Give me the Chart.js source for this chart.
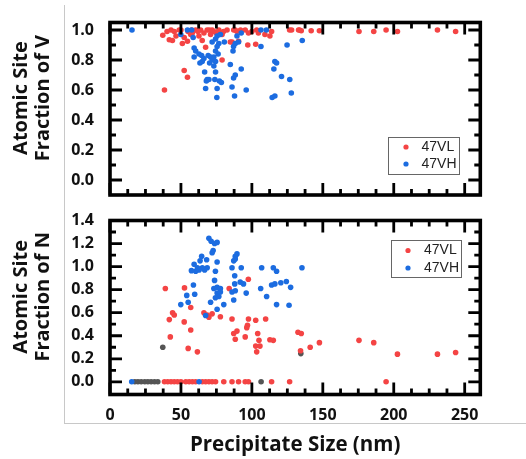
<!DOCTYPE html>
<html>
<head>
<meta charset="utf-8">
<script src="https://cdn.jsdelivr.net/npm/chart.js@4.4.1/dist/chart.umd.min.js"></script>
<style>
  html, body { margin: 0; padding: 0; background: #fff; }
  #page { position: relative; width: 526px; height: 459px; overflow: hidden; }
  #frame { position: absolute; left: 64px; top: 5px; width: 470px; height: 418px;
           border-left: 1px solid #c8c8c8; border-bottom: 1px solid #c8c8c8; }
  .box { position: absolute; left: 0; width: 526px; }
  #top-box { top: 0; height: 210px; }
  #bottom-box { top: 205px; height: 254px; }
</style>
</head>
<body>
<div id="page">
  <div id="frame"></div>
  <div class="box" id="top-box"><canvas id="top-chart"></canvas></div>
  <div class="box" id="bottom-box"><canvas id="bottom-chart"></canvas></div>
</div>
<script>
// [precipitate size (nm), atomic site fraction]
const topVL = [
  [37.2,0.965],[41.8,0.935],[40.2,0.99],[43,1.0],[45.3,0.99],[48.8,1.0],[46.5,0.96],[52.3,0.95],
  [54.6,0.925],[56.9,0.97],[60.4,1.0],[63.9,1.0],[66.2,0.98],[68.5,1.0],[73.2,0.99],[76.7,1.0],
  [79,0.97],[82.5,1.0],[86,0.92],[88.3,1.0],[62.7,0.96],[70.9,0.97],[87.2,1.0],[89.5,0.99],
  [95.3,1.0],[97.6,0.98],[103.4,1.0],[104.6,0.98],[109.2,0.97],[112.7,0.96],[113.9,0.99],
  [126.6,1.0],[133.6,1.0],[141.8,0.995],[147.6,0.995],[97.1,0.9],[102.7,0.905],[90.6,0.925],
  [38.4,0.6],[52.3,0.73],[54.6,0.685],[67.4,0.885],[79,0.8],[128,1.0],[132.9,1.0],[134.8,0.995],
  [175.5,0.99],[185.9,0.99],[194.6,1.0],[202.6,0.99],[230.8,1.0],[243.6,0.99],[44,0.93],[51,0.91],
  [58,0.98],[65,0.93],[72,1.0],[84.8,0.92],[50,1.0],[55,0.99],[57.5,1.0],[62,0.99],[70,1.0],
  [75,0.98],[80,0.99],[92,1.0],[100,0.99]
];
const topVH = [
  [15.5,1.0],[54.6,1.0],[57.6,1.0],[49.9,0.97],[58.6,0.95],[59.3,0.88],[60.4,0.86],[62.7,0.84],
  [59.3,0.82],[64.6,0.83],[66.2,0.81],[65,0.79],[63.4,0.78],[69.2,0.83],[70.9,0.82],[72,0.8],
  [70.2,0.78],[72,0.92],[74.4,0.94],[75.5,0.96],[77.8,0.97],[76.7,0.91],[75.5,0.89],[74.4,0.86],
  [76.2,0.84],[73.2,0.82],[74.4,0.79],[66.7,0.72],[73.2,0.76],[74.4,0.72],[68.5,0.67],[67.9,0.66],
  [69.7,0.67],[73.9,0.67],[77.1,0.66],[78.5,0.65],[67.4,0.61],[75.5,0.61],[75.3,0.55],[80.6,0.92],
  [84.8,0.77],[87.1,0.89],[88.3,0.91],[86.7,0.86],[89.5,0.96],[90.6,0.92],[92.5,0.98],[88.3,0.7],
  [87.1,0.68],[92.5,0.74],[86,0.62],[87.8,0.56],[96,0.6],[106.4,0.89],[106.4,1.0],[110.2,1.0],
  [116.2,0.79],[117.4,0.78],[115.5,0.74],[120.9,0.69],[126.7,0.67],[127.8,0.58],[114.3,0.55],
  [116.2,0.56],[124.8,0.9],[135.5,0.93]
];
const botVL = [
  [39,0.81],[52.5,0.815],[84,0.81],[97.5,0.89],[44.1,0.6],[45.3,0.58],[41.8,0.54],[52.3,0.52],
  [56.9,0.645],[56.9,0.45],[42.5,0.39],[55.1,0.29],[61.6,0.26],[66.2,0.6],[68.5,0.58],[69.7,0.56],
  [72,0.59],[77.8,0.565],[87.2,0.42],[88.3,0.37],[89.5,0.44],[95.3,0.39],[86,0.545],[97.6,0.545],
  [96.9,0.49],[96.4,0.47],[102.7,0.535],[109.7,0.545],[104.1,0.42],[105,0.36],[102.7,0.31],
  [105.7,0.31],[103.4,0.26],[112.7,0.365],[115.1,0.36],[132.5,0.43],[134.8,0.42],[134.3,0.27],
  [141.1,0.3],[147.6,0.34],[175.5,0.36],[185.9,0.34],[202.6,0.24],[230.8,0.24],[243.6,0.255],
  [38.4,0],[40.7,0],[43,0],[45.3,0],[47.6,0],[50,0],[53.4,0],[55.8,0],[58.1,0],[60.4,0],[65.1,0],
  [67.4,0],[69.7,0],[72,0],[74.4,0],[80.2,0],[86,0],[90.6,0],[95.3,0],[97.6,0],[113.9,0],
  [126.6,0],[194.6,0]
];
const botVH = [
  [69.7,1.245],[71.3,1.22],[73.7,1.2],[75.5,1.21],[72.7,1.14],[72,1.12],[68.1,1.06],[68.5,0.99],
  [66.7,0.97],[65.1,0.99],[62.8,0.97],[60.4,0.96],[59.3,1.02],[57.4,0.965],[63.5,1.05],[61.6,0.99],
  [64.6,1.09],[75.5,1.04],[74.3,0.96],[73.7,0.88],[73.2,0.81],[75.5,0.82],[77.8,0.81],[75.5,0.77],
  [76.7,0.74],[77.8,0.78],[74.3,0.73],[80.2,0.67],[75.5,0.63],[58.8,0.84],[59.7,0.76],[54.1,0.75],
  [55.1,0.69],[49.9,0.67],[70.9,0.69],[67.4,0.575],[86,0.99],[87.2,1.05],[88.3,1.09],[89.5,1.11],
  [88.3,1.065],[92.5,0.99],[87.9,0.92],[87.9,0.85],[91.8,0.865],[94.1,0.85],[88.3,0.79],[86,0.78],
  [87.2,0.71],[96,0.77],[106.9,0.99],[115.1,0.99],[117.4,0.96],[113.9,0.84],[116.2,0.85],
  [120.4,0.86],[124.3,0.87],[127.3,0.82],[106.2,0.81],[110.4,0.74],[117.4,0.67],[126.2,0.665],
  [135.3,0.99],[15.3,0],[62.8,0]
];
const botOther = [
  [37.2,0.3],[134.5,0.245],[17.5,0],[19.7,0],[22,0],[24.5,0],[26.7,0],[29,0],[31.4,0],[33.7,0],[106.5,0]
];

const xTicks = [0, 50, 100, 150, 200, 250];
const topYTicks = [0, 0.2, 0.4, 0.6, 0.8, 1.0];
const botYTicks = [0, 0.2, 0.4, 0.6, 0.8, 1.0, 1.2, 1.4];

const RED = 'rgb(244,68,68)';
const BLUE = 'rgb(28,108,224)';
const GREY = 'rgb(85,85,85)';
const FONT = "'Open Sans', 'Noto Sans', sans-serif";

function minorTicks(majors, step, min, max) {
    let out = [];
    for (let v = min; v <= max + 1e-9; v += step) {
        let r = Math.round(v * 1000) / 1000;
        if (!majors.some(m => Math.abs(m - r) < 1e-6)) out.push(r);
    }
    return out;
}

// box frame with inward ticks on all four sides
function frameTicks(yMajor, yMax) {
    const xMinor = minorTicks(xTicks, 12.5, 0, 261);
    const yMinor = minorTicks(yMajor, 0.1, 0, yMax - 0.05);
    return {
        id: 'frameTicks',
        afterDatasetsDraw(chart) {
            const { ctx, chartArea: a } = chart;
            const x = chart.scales.x, y = chart.scales.y;
            ctx.save();
            ctx.strokeStyle = '#000';
            ctx.lineWidth = 2.8;
            ctx.beginPath();
            function xTick(v, len) {
                let px = x.getPixelForValue(v);
                ctx.moveTo(px, a.bottom); ctx.lineTo(px, a.bottom - len);
                ctx.moveTo(px, a.top); ctx.lineTo(px, a.top + len);
            }
            function yTick(v, len) {
                let py = y.getPixelForValue(v);
                ctx.moveTo(a.left, py); ctx.lineTo(a.left + len, py);
                ctx.moveTo(a.right, py); ctx.lineTo(a.right - len, py);
            }
            xTicks.forEach(v => xTick(v, 12));
            xMinor.forEach(v => xTick(v, 6));
            yMajor.forEach(v => yTick(v, 12));
            yMinor.forEach(v => yTick(v, 6));
            ctx.stroke();
            ctx.lineWidth = 3.6;
            ctx.strokeRect(a.left, a.top, a.right - a.left, a.bottom - a.top);
            ctx.restore();
        }
    };
}

// two-line rotated y title, sitting a little above the plot centre like the original
function yTitle(lines) {
    return {
        id: 'yTitle',
        afterDraw(chart) {
            const { ctx, chartArea: a } = chart;
            ctx.save();
            ctx.font = "bold 20px " + FONT;
            ctx.fillStyle = '#111';
            ctx.textAlign = 'center';
            ctx.textBaseline = 'middle';
            lines.forEach((t, i) => {
                ctx.save();
                ctx.translate(21.7 + i * 21.6, (a.top + a.bottom) / 2 - 10.7);
                ctx.rotate(-Math.PI / 2);
                ctx.fillText(t, 0, 0);
                ctx.restore();
            });
            ctx.restore();
        }
    };
}

function boxLegend(lg) {
    return {
        id: 'boxLegend',
        afterDraw(chart) {
            const { ctx, chartArea: a } = chart;
            const left = Math.round(a.right - lg.right - lg.width);
            const top = Math.round(lg.top != null ? a.top + lg.top : a.bottom - lg.bottom - lg.height);
            ctx.save();
            ctx.fillStyle = '#fff';
            ctx.fillRect(left, top, lg.width, lg.height);
            ctx.strokeStyle = '#666';
            ctx.lineWidth = 1;
            ctx.strokeRect(left + 0.5, top + 0.5, lg.width, lg.height);
            ctx.font = "14px 'Liberation Sans', Arial, sans-serif";
            ctx.textBaseline = 'middle';
            chart.data.datasets.filter(d => d.label).forEach((d, i) => {
                let cy = top + lg.rowTop + i * lg.rowGap;
                ctx.fillStyle = d.backgroundColor;
                ctx.beginPath();
                ctx.arc(left + lg.dotX, cy, 2.6, 0, Math.PI * 2);
                ctx.fill();
                ctx.fillStyle = '#222';
                ctx.fillText(d.label, left + lg.textX, cy);
            });
            ctx.restore();
        }
    };
}

function points(arr) {
    return arr.map(p => ({ x: p[0], y: p[1] }));
}

function makeChart(canvasId, datasets, cfg) {
    var ctx = document.getElementById(canvasId).getContext('2d');
    return new Chart(ctx, {
        type: 'scatter',
        data: { datasets: datasets },
        plugins: [frameTicks(cfg.yTicks, cfg.yMax), yTitle(cfg.yTitle), boxLegend(cfg.legend)],
        options: {
            responsive: true,
            maintainAspectRatio: false,
            animation: false,
            events: [],
            layout: { padding: cfg.padding },
            elements: { point: { radius: 2.8, borderWidth: 0, hoverRadius: 2.8 } },
            scales: {
                x: {
                    type: 'linear', min: 0, max: 261,
                    display: cfg.showX,
                    afterBuildTicks: s => { s.ticks = xTicks.map(v => ({ value: v })); },
                    afterFit: s => {
                        s.height = cfg.showX ? 64.5 : 0;
                        s.paddingLeft = 0; s.paddingRight = 0;
                    },
                    grid: { display: false, drawTicks: false },
                    border: { display: false },
                    ticks: {
                        padding: 11, color: '#111', maxRotation: 0, autoSkip: false,
                        font: { family: FONT, size: 16, weight: 'bold' },
                        callback: v => v
                    },
                    title: {
                        display: true, text: 'Precipitate Size (nm)', color: '#111',
                        font: { family: FONT, size: 20.5, weight: 'bold', lineHeight: 1.05 },
                        padding: { top: 0, bottom: 3.2 }
                    }
                },
                y: {
                    type: 'linear', min: cfg.yMin, max: cfg.yMax,
                    afterBuildTicks: s => { s.ticks = cfg.yTicks.map(v => ({ value: v })); },
                    afterFit: s => {
                        s.width = 110;
                        s.paddingTop = 0; s.paddingBottom = 0;
                    },
                    grid: { display: false, drawTicks: false },
                    border: { display: false },
                    ticks: {
                        padding: 16, color: '#111', autoSkip: false,
                        font: { family: FONT, size: 16, weight: 'bold' },
                        callback: v => v.toFixed(1)
                    },
                    title: { display: false }
                }
            },
            plugins: {
                legend: { display: false },
                tooltip: { enabled: false }
            }
        }
    });
}

makeChart('top-chart', [
    { label: '47VL', data: points(topVL), backgroundColor: RED, order: 2 },
    { label: '47VH', data: points(topVH), backgroundColor: BLUE, order: 1 }
], {
    padding: { top: 22.5, bottom: 15, left: 0, right: 45.7 },
    showX: false, yMin: -0.1, yMax: 1.05, yTicks: topYTicks,
    yTitle: ['Atomic Site', 'Fraction of V'],
    legend: { right: 21.3, bottom: 21, width: 71, height: 37, dotX: 18, textX: 33.5, rowTop: 10, rowGap: 17 }
});

makeChart('bottom-chart', [
    { label: '47VL', data: points(botVL), backgroundColor: RED, order: 2 },
    { label: '47VH', data: points(botVH), backgroundColor: BLUE, order: 1 },
    { data: points(botOther), backgroundColor: GREY, order: 3 }
], {
    padding: { top: 15.5, bottom: 0, left: 0, right: 45.7 },
    showX: true, yMin: -0.11, yMax: 1.4, yTicks: botYTicks,
    yTitle: ['Atomic Site', 'Fraction of N'],
    legend: { right: 19.3, top: 19.5, width: 70, height: 37, dotX: 17, textX: 33, rowTop: 10.5, rowGap: 17.5 }
});
</script>
</body>
</html>
